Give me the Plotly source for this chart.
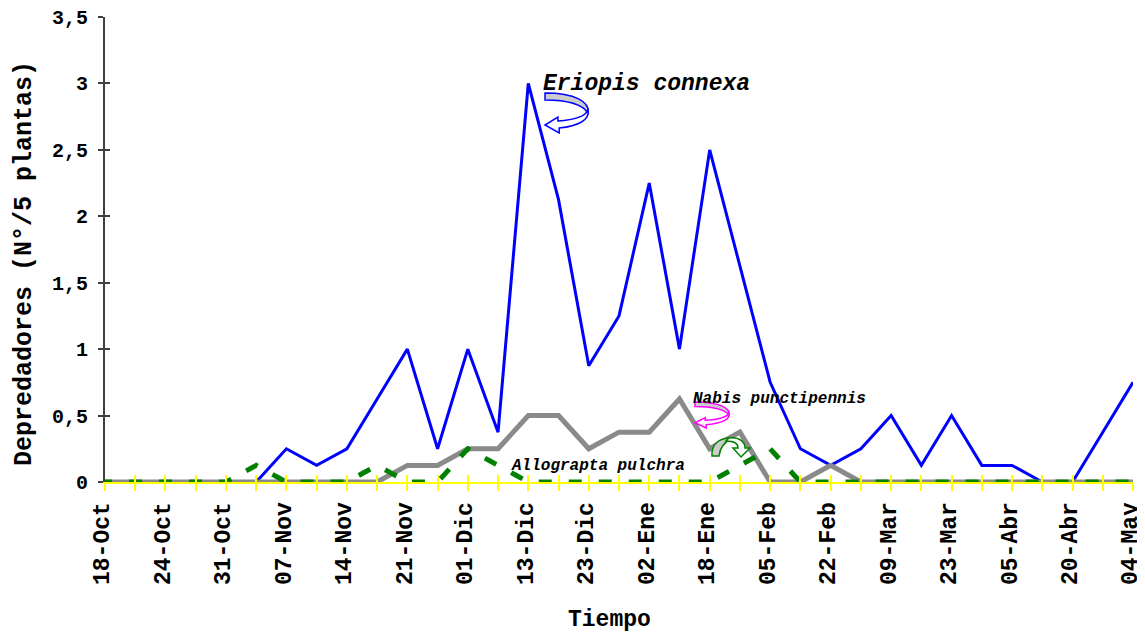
import plotly.graph_objects as go

# ---- data ----
date_labels = ["18-Oct", "24-Oct", "31-Oct", "07-Nov", "14-Nov", "21-Nov", "01-Dic",
               "13-Dic", "23-Dic", "02-Ene", "18-Ene", "05-Feb", "22-Feb", "09-Mar",
               "23-Mar", "05-Abr", "20-Abr", "04-May"]
n_points = 35  # samples; every second sample carries a date label

eriopis = [None, None, None, None, None, 0, 0.25, 0.125, 0.25, 0.625, 1.0, 0.25,
           1.0, 0.375, 3.0, 2.125, 0.875, 1.25, 2.25, 1.0, 2.5, 1.625, 0.75,
           0.25, 0.125, 0.25, 0.5, 0.125, 0.5, 0.125, 0.125, 0, 0, 0.375, 0.75]
nabis = [0, 0, 0, 0, 0, 0, 0, 0, 0, 0, 0.125, 0.125, 0.25, 0.25, 0.5, 0.5, 0.25,
         0.375, 0.375, 0.625, 0.25, 0.375, 0, 0, 0.125, 0, 0, 0, 0, 0, 0, 0, 0, 0, 0]
allograpta = [0, 0, 0, 0, 0, 0.125, 0, 0, 0, 0.125, 0, 0, 0.25, 0.125, 0, 0, 0,
              0, 0, 0, 0, 0.125, 0.25, 0, 0, 0, 0, 0, 0, 0, 0, 0, 0, 0, 0]

x = list(range(n_points))
tick_text = [date_labels[i // 2] if i % 2 == 0 else "" for i in x]

# ---- geometry (page has an 8px body margin) ----
OFF = 8
WIN_W, WIN_H = 1145, 632
W, H = WIN_W - OFF, WIN_H - OFF
PLOT_L, PLOT_R, PLOT_T, PLOT_B = 105, 1133, 17, 482   # in window pixels
ML, MR, MT, MB = PLOT_L - OFF, OFF + W - PLOT_R, PLOT_T - OFF, OFF + H - PLOT_B
PW, PH = PLOT_R - PLOT_L, PLOT_B - PLOT_T


def px(xp, yp):
    return (xp - PLOT_L) / PW, (PLOT_B - yp) / PH


def path(cmds):
    out = []
    for c in cmds:
        if isinstance(c, str):
            out.append(c)
        else:
            a, b = px(*c)
            out.append(f"{a:.5f},{b:.5f}")
    return " ".join(out)


def curved_arrow(x0, y0, w, h):
    def p(u, v):
        return (x0 + u * w, y0 + v * h)
    band = path(["M", p(0, 0), "C", p(0.70, 0), p(1.05, 0.225), p(1.0, 0.5),
                 "C", p(0.88, 0.30), p(0.53, 0.175), p(0, 0.175), "Z"])
    head = path(["M", p(1.0, 0.425), "C", p(1.05, 0.675), p(0.77, 0.825), p(0.33, 0.875),
                 "L", p(0.33, 1.0), "L", p(0, 0.8), "L", p(0.30, 0.6), "L", p(0.30, 0.7),
                 "C", p(0.67, 0.675), p(0.93, 0.6), p(1.0, 0.425), "Z"])
    return band, head


font_family = "Courier New, Liberation Mono, monospace"

fig = go.Figure()
fig.add_trace(go.Scatter(x=x, y=eriopis, mode="lines", name="Eriopis connexa",
                         line=dict(color="#0000FF", width=3), connectgaps=False))
fig.add_trace(go.Scatter(x=x, y=nabis, mode="lines", name="Nabis punctipennis",
                         line=dict(color="#8A8A8A", width=5)))
fig.add_trace(go.Scatter(x=x, y=allograpta, mode="lines", name="Allograpta pulchra",
                         line=dict(color="#008000", width=5, dash="7px,17px,6px,0px")))
# helper trace for overlay axes (crossing tick marks)
fig.add_trace(go.Scatter(x=[], y=[], xaxis="x2", yaxis="y2", showlegend=False,
                         hoverinfo="skip"))

shapes = []
b1, h1 = curved_arrow(545, 93, 43, 40)
shapes.append(dict(type="path", xref="paper", yref="paper", path=b1,
                   fillcolor="#CCCCCC", line=dict(color="#0000FF", width=1.5)))
shapes.append(dict(type="path", xref="paper", yref="paper", path=h1,
                   fillcolor="#FFFFFF", line=dict(color="#0000FF", width=1.5)))
b2, h2 = curved_arrow(695, 402, 34, 26)
shapes.append(dict(type="path", xref="paper", yref="paper", path=b2,
                   fillcolor="#CCCCCC", line=dict(color="#FF00FF", width=1.5)))
shapes.append(dict(type="path", xref="paper", yref="paper", path=h2,
                   fillcolor="#FFFFFF", line=dict(color="#FF00FF", width=1.5)))
gband = path(["M", (712, 456), "C", (711, 443), (721, 437), (733, 438),
              "C", (726, 441), (720, 447), (719, 456), "Z"])
ghead = path(["M", (729, 438), "C", (740, 437), (745, 442), (745, 448),
              "L", (750, 448), "L", (741, 457), "L", (733, 448), "L", (738, 448),
              "C", (738, 444), (735, 441), (726, 441), "Z"])
shapes.append(dict(type="path", xref="paper", yref="paper", path=gband,
                   fillcolor="#CCCCCC", line=dict(color="#008000", width=1.5)))
shapes.append(dict(type="path", xref="paper", yref="paper", path=ghead,
                   fillcolor="#FFFFFF", line=dict(color="#008000", width=1.5)))

annotations = []


def add_text(text, xp, yp, size, xanchor="left", angle=0):
    a, b = px(xp, yp)
    annotations.append(dict(text=text, x=a, y=b, xref="paper", yref="paper",
                            xanchor=xanchor, yanchor="middle", showarrow=False,
                            textangle=angle,
                            font=dict(family=font_family, size=size, color="black")))


add_text("<b><i>Eriopis connexa</i></b>", 541, 84, 23)
add_text("<b><i>Nabis punctipennis</i></b>", 691, 399, 16)
add_text("<b><i>Allograpta pulchra</i></b>", 509, 466, 16)
add_text("<b>Tiempo</b>", 609, 620, 23, xanchor="center")
add_text("<b>Depredadores (N°/5 plantas)</b>", 24, 264, 25, xanchor="center", angle=-90)

ytv = [0, 0.5, 1, 1.5, 2, 2.5, 3, 3.5]
fig.update_layout(
    width=W, height=H,
    margin=dict(l=ML, r=MR, t=MT, b=MB, pad=0),
    paper_bgcolor="white", plot_bgcolor="white",
    separators=",.",
    showlegend=False,
    shapes=shapes,
    annotations=annotations,
    xaxis=dict(range=[0, n_points - 1], tickmode="array", tickvals=x, ticktext=tick_text,
               tickangle=-90, ticks="outside", ticklen=7, tickwidth=2, tickcolor="#FFFF00",
               showline=True, linecolor="#FFFF00", linewidth=2, showgrid=False,
               zeroline=False, ticklabelstandoff=2, ticklabelshift=-3, automargin=False,
               ticklabeloverflow="allow",
               tickfont=dict(family=font_family, size=23, color="black", weight="bold")),
    xaxis2=dict(matches="x", overlaying="x", anchor="y", tickmode="array", tickvals=x,
                ticks="inside", ticklen=7, tickwidth=2, tickcolor="#FFFF00",
                showticklabels=False, showline=False, showgrid=False, zeroline=False),
    yaxis=dict(range=[0, 3.5], tickmode="array", tickvals=ytv,
               ticks="outside", ticklen=5, tickwidth=2, tickcolor="#404040",
               showline=True, linecolor="#404040", linewidth=2, showgrid=False,
               zeroline=False, ticklabelstandoff=6, automargin=False,
               ticklabeloverflow="allow",
               tickfont=dict(family=font_family, size=20, color="black", weight="bold")),
    yaxis2=dict(matches="y", overlaying="y", anchor="x", side="left", tickmode="array",
                tickvals=ytv, ticks="inside", ticklen=5,
                tickwidth=2, tickcolor="#404040", showticklabels=False, showline=False,
                showgrid=False, zeroline=False),
)

fig.write_html("out.html")
